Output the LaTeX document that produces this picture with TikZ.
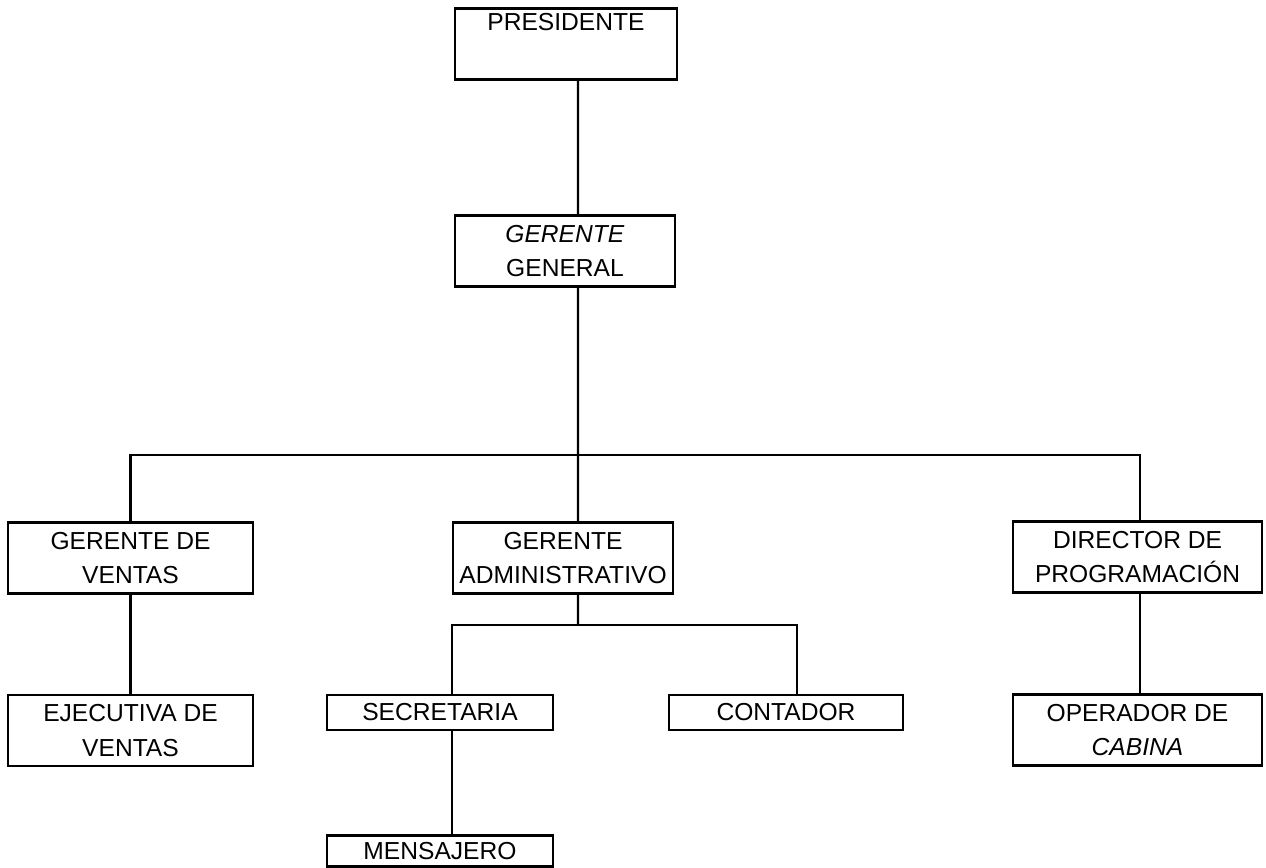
\documentclass[tikz,border=0pt]{standalone}
\usepackage{fontspec}
\setmainfont{Liberation Sans}
\usetikzlibrary{positioning}
\tikzstyle{cargo} = [rectangle, draw=black, line width=1.4pt, align=center, inner sep=0pt, font=\fontsize{14}{19.4}\selectfont]
\tikzstyle{alto} = [cargo, minimum height=1.42cm]
\tikzstyle{bajo} = [cargo, minimum height=0.7cm]
\tikzstyle{linea} = [black, line width=1.4pt]

\begin{document}
\begin{tikzpicture}[x=0.02cm, y=-0.02cm]
		\useasboundingbox (0,0) rectangle (1266,867);

		\node[alto, minimum width=4.44cm] (PRES) at (566,44) {PRESIDENTE\\ \strut};
		\node[alto, minimum width=4.4cm] (GG) at (565,251) {\textit{GERENTE}\\GENERAL};

		\node[alto, minimum width=4.9cm] (GV) at (130.5,558) {GERENTE DE\\VENTAS};
		\node[alto, minimum width=4.4cm] (GA) at (563,558) {GERENTE\\ADMINISTRATIVO};
		\node[alto, minimum width=4.98cm] (DP) at (1137.5,557) {DIRECTOR DE\\PROGRAMACIÓN};

		\node[alto, minimum width=4.9cm] (EV) at (130.5,730.5) {EJECUTIVA DE\\VENTAS};
		\node[bajo, minimum width=4.52cm] (SEC) at (440,712.5) {SECRETARIA};
		\node[bajo, minimum width=4.68cm] (CONT) at (786,712.5) {CONTADOR};
		\node[alto, minimum width=4.98cm] (OP) at (1137.5,730) {OPERADOR DE\\\textit{CABINA}};

		\node[cargo, minimum width=4.52cm, minimum height=0.62cm] (MENS) at (440,851) {MENSAJERO};

		\coordinate (bus) at (578,455);
		\coordinate (sub) at (578,625);

		\draw[linea] ([xshift=0.24cm]PRES.south) -- ([xshift=0.26cm]GG.north);
		\draw[linea] ([xshift=0.26cm]GG.south) -- (bus);
		\draw[linea] (GV.north) |- (bus) -| ([xshift=0.05cm]DP.north);
		\draw[linea] (bus) -- ([xshift=0.3cm]GA.north);
		\draw[linea] (GV) -- (EV);
		\draw[linea] ([xshift=0.05cm]DP.south) -- ([xshift=0.05cm]OP.north);
		\draw[linea] ([xshift=0.3cm]GA.south) -- (sub);
		\draw[linea] ([xshift=0.24cm]SEC.north) |- (sub) -| ([xshift=0.22cm]CONT.north);
		\draw[linea] ([xshift=0.24cm]SEC.south) -- ([xshift=0.24cm]MENS.north);
	\end{tikzpicture}
\end{document}
